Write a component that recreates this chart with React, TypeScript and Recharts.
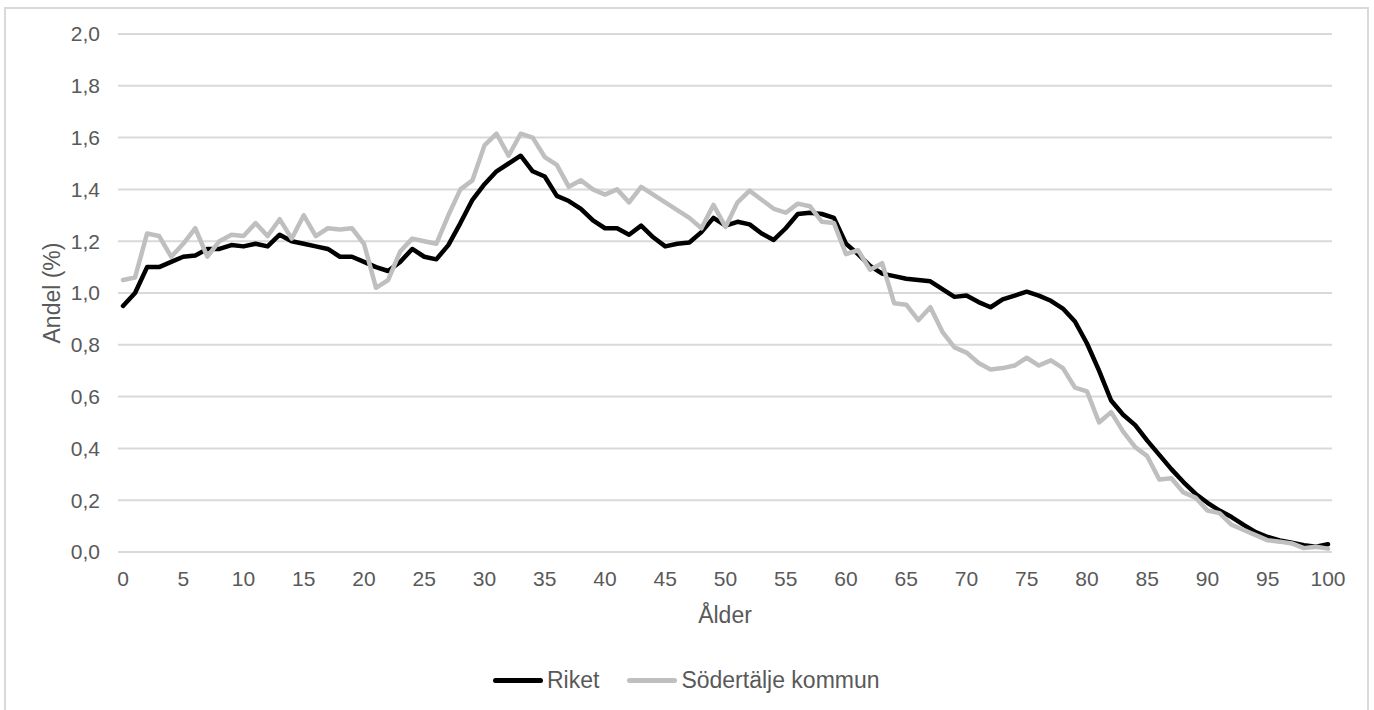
import React from 'react';
import { LineChart, Line, XAxis, YAxis, CartesianGrid, Label } from 'recharts';

// ålder 0..100
const ages = Array.from({ length: 101 }, (_, i) => i);

const riket = [
  0.95, 1.0, 1.1, 1.1, 1.12, 1.14, 1.145, 1.17, 1.17, 1.185,
  1.18, 1.19, 1.18, 1.225, 1.2, 1.19, 1.18, 1.17, 1.14, 1.14,
  1.12, 1.1, 1.085, 1.12, 1.17, 1.14, 1.13, 1.185, 1.27, 1.36,
  1.42, 1.47, 1.5, 1.53, 1.47, 1.45, 1.375, 1.355, 1.325, 1.28,
  1.25, 1.25, 1.225, 1.26, 1.215, 1.18, 1.19, 1.195, 1.235, 1.29,
  1.26, 1.275, 1.265, 1.23, 1.205, 1.25, 1.305, 1.31, 1.305, 1.29,
  1.19, 1.15, 1.105, 1.075, 1.065, 1.055, 1.05, 1.045, 1.015, 0.985,
  0.99, 0.965, 0.945, 0.975, 0.99, 1.005, 0.99, 0.97, 0.94, 0.89,
  0.805, 0.7, 0.585, 0.53, 0.49, 0.43, 0.375, 0.32, 0.27, 0.225,
  0.19, 0.16, 0.135, 0.105, 0.077, 0.058, 0.045, 0.036, 0.026, 0.02,
  0.03,
];

const sodertalje = [
  1.05, 1.06, 1.23, 1.22, 1.14, 1.19, 1.25, 1.14, 1.2, 1.225,
  1.22, 1.27, 1.22, 1.285, 1.21, 1.3, 1.22, 1.25, 1.245, 1.25,
  1.19, 1.02, 1.05, 1.16, 1.21, 1.2, 1.19, 1.3, 1.4, 1.435,
  1.57, 1.615, 1.53, 1.615, 1.6, 1.525, 1.495, 1.41, 1.435, 1.4,
  1.38, 1.4, 1.35, 1.41, 1.38, 1.35, 1.32, 1.29, 1.25, 1.34,
  1.255, 1.35, 1.395, 1.36, 1.325, 1.31, 1.345, 1.335, 1.275, 1.27,
  1.15, 1.165, 1.09, 1.115, 0.96, 0.955, 0.895, 0.945, 0.85, 0.79,
  0.77, 0.73, 0.705, 0.71, 0.72, 0.75, 0.72, 0.74, 0.71, 0.635,
  0.62, 0.5, 0.54, 0.465, 0.405, 0.37, 0.28, 0.285, 0.23, 0.21,
  0.16, 0.15, 0.105, 0.085, 0.065, 0.045, 0.04, 0.033, 0.015, 0.02,
  0.013,
];

const xTicks = [0, 5, 10, 15, 20, 25, 30, 35, 40, 45, 50, 55, 60, 65, 70, 75, 80, 85, 90, 95, 100];
const yTicks = [0, 0.2, 0.4, 0.6, 0.8, 1.0, 1.2, 1.4, 1.6, 1.8, 2.0];

const series = [
  { key: 'riket', name: 'Riket', color: '#000000' },
  { key: 'sodertalje', name: 'Södertälje kommun', color: '#bfbfbf' },
];

const data = ages.map((age, i) => ({ age, riket: riket[i], sodertalje: sodertalje[i] }));

const TEXT = '#595959';
const FONT = '"Liberation Sans", Arial, sans-serif';

const fmt = (v: number) => v.toFixed(1).replace('.', ',');

export default function App() {
  return (
    <div style={{ position: 'absolute', left: 0, top: 0, width: 1374, height: 710, overflow: 'hidden', background: '#fff', fontFamily: FONT }}>
      <div style={{ position: 'absolute', left: 4, top: 7, width: 1365, height: 730, border: '2px solid #d9d9d9', boxSizing: 'border-box' }} />
      <LineChart
        width={1374}
        height={710}
        data={data}
        margin={{ top: 34, right: 42, bottom: 98, left: 0 }}
        style={{ position: 'absolute', left: 0, top: 0 }}
      >
        <CartesianGrid vertical={false} stroke="#d9d9d9" strokeWidth={2} />
        <XAxis
          dataKey="age"
          type="number"
          domain={[0, 100]}
          ticks={xTicks}
          padding={{ left: 5, right: 4 }}
          axisLine={false}
          tickLine={false}
          tickMargin={13}
          height={60}
          tick={{ fill: TEXT, fontSize: 21, fontFamily: FONT }}
        >
          <Label
            content={(p: any) => {
              const vb = p.viewBox || {};
              return (
                <text x={vb.x + vb.width / 2} y={623} textAnchor="middle" fill={TEXT} fontSize={23} fontFamily={FONT}>
                  Ålder
                </text>
              );
            }}
          />
        </XAxis>
        <YAxis
          type="number"
          domain={[0, 2]}
          ticks={yTicks}
          width={118}
          axisLine={false}
          tickLine={false}
          tickMargin={12}
          tickFormatter={fmt}
          tick={{ fill: TEXT, fontSize: 21, fontFamily: FONT }}
        >
          <Label
            content={(p: any) => {
              const vb = p.viewBox || {};
              const cy = vb.y + vb.height / 2;
              return (
                <text
                  x={52}
                  y={cy}
                  transform={`rotate(-90, 52, ${cy})`}
                  textAnchor="middle"
                  dominantBaseline="central"
                  fill={TEXT}
                  fontSize={23}
                  fontFamily={FONT}
                >
                  Andel (%)
                </text>
              );
            }}
          />
        </YAxis>
        {series.map((s) => (
          <Line
            key={s.key}
            type="linear"
            dataKey={s.key}
            name={s.name}
            stroke={s.color}
            strokeWidth={4.5}
            strokeLinejoin="round"
            strokeLinecap="round"
            dot={false}
            activeDot={false}
            isAnimationActive={false}
          />
        ))}
      </LineChart>
      <div style={{ position: 'absolute', left: 493, top: 667, display: 'flex', alignItems: 'center', lineHeight: '26px', fontSize: 23, color: TEXT }}>
        {series.map((s, i) => (
          <div key={s.key} style={{ display: 'flex', alignItems: 'center', marginLeft: i === 0 ? 0 : 28 }}>
            <div style={{ width: 50, height: 5, borderRadius: 2.5, background: s.color, marginRight: 4 }} />
            <span>{s.name}</span>
          </div>
        ))}
      </div>
    </div>
  );
}
